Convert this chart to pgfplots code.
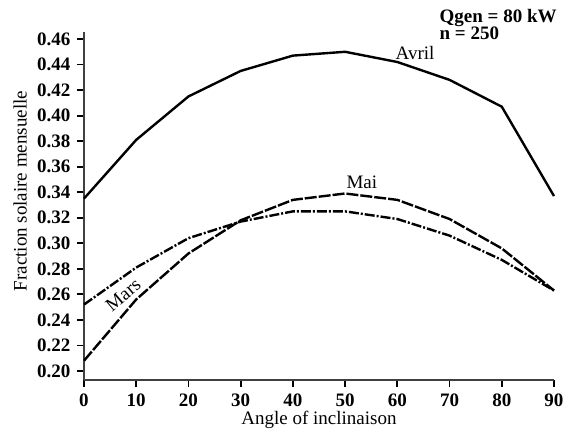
\documentclass[border=0pt]{standalone}
\usepackage{fontspec}
\setmainfont{Liberation Serif}
\usepackage{pgfplots}
\pgfplotsset{compat=1.18}

\begin{document}
\fontsize{9.5pt}{11pt}\selectfont
\begin{tikzpicture}
\begin{axis}[
    scale only axis,
    width=235pt, height=174pt,
    xmin=0, xmax=90,
    ymin=0.1929, ymax=0.4655,
    axis x line*=bottom,
    axis y line*=left,
    axis line style={black!75, line width=0.9pt},
    xtick={0,10,...,90},
    ytick={0.20,0.22,...,0.461},
    tick align=outside,
    tick style={black, line width=0.9pt},
    major tick length=3.5pt,
    tick label style={font=\bfseries},
    /pgf/number format/assume math mode=true,
    y tick label style={/pgf/number format/.cd, fixed, fixed zerofill, precision=2},
    xlabel={Angle of inclinaison},
    ylabel={Fraction solaire mensuelle},
    xlabel style={at={(rel axis cs:0.5,-0.115)}, anchor=center},
    ylabel style={at={(rel axis cs:-0.136,0.543)}, anchor=center, rotate=0},
    clip=false,
]
% Avril
\addplot[black, line width=1.2pt] coordinates {
  (0,0.335) (10,0.381) (20,0.415) (30,0.435) (40,0.447)
  (50,0.450) (60,0.442) (70,0.428) (80,0.407) (90,0.337)};
% Mai
\addplot[black, line width=1.2pt, dash pattern=on 6pt off 1pt] coordinates {
  (0,0.208) (10,0.256) (20,0.292) (30,0.318) (40,0.334)
  (50,0.339) (60,0.334) (70,0.319) (80,0.296) (90,0.263)};
% Mars
\addplot[black, line width=1.2pt, dash pattern=on 5pt off 1pt on 1pt off 1pt] coordinates {
  (0,0.252) (10,0.281) (20,0.304) (30,0.317) (40,0.325)
  (50,0.325) (60,0.319) (70,0.306) (80,0.287) (90,0.263)};

\node at (axis cs:63.4,0.4494) {Avril};
\node at (axis cs:53.2,0.3475) {Mai};
\node[rotate=40] at (axis cs:7.5,0.2596) {Mars};
\node[anchor=east, inner sep=0pt, font=\bfseries] (q) at (rel axis cs:1.0064,1.040) {Qgen = 80 kW};
\node[anchor=base west, inner sep=0pt, font=\bfseries] at ([yshift=-8.5pt]q.base west) {n = 250};
\coordinate (bl) at (rel axis cs:-0.1787,-0.1494);
\coordinate (tr) at (rel axis cs:1.0213,1.092);
\end{axis}
\pgfresetboundingbox
\path (bl) rectangle (tr);
\end{tikzpicture}
\end{document}
